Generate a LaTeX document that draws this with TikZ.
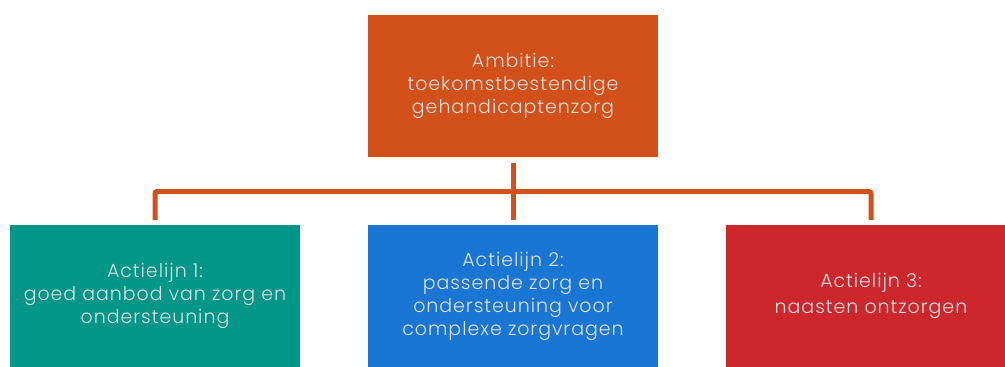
\documentclass[tikz,border=0pt]{standalone}
\usepackage{fontspec}
\setmainfont{Poppins}[UprightFont=* Light, LetterSpace=5]
\definecolor{cTop}{HTML}{D2501A}
\definecolor{cTeal}{HTML}{009688}
\definecolor{cBlue}{HTML}{1976D2}
\definecolor{cRed}{HTML}{CB272D}
\begin{document}
\begin{tikzpicture}[x=1pt,y=-1pt,
  box/.style={minimum width=290pt, minimum height=142pt, inner sep=0pt, align=center,
    text=white!88!black, font=\fontsize{19}{23}\selectfont},
  conn/.style={draw=cTop, line width=5pt, rounded corners=2pt}]
\useasboundingbox (0,0) rectangle (1005,367);
\node[box, fill=cTop] (top) at (513,86) {Ambitie:\\toekomstbestendige\\gehandicaptenzorg};
\node[box, fill=cTeal] (b1) at (155,296) {Actielijn 1:\\goed aanbod van zorg en\\ondersteuning};
\node[box, fill=cBlue] (b2) at (513,296) {Actielijn 2:\\passende zorg en\\ondersteuning voor\\complexe zorgvragen};
\node[box, fill=cRed, font=\fontsize{19}{26}\selectfont] (b3) at (871,296) {Actielijn 3:\\naasten ontzorgen};
\coordinate (j) at (513,191.5);
\draw[conn] ([yshift=5pt]b1.north) |- (j) -| ([yshift=5pt]b3.north);
\draw[conn] ([yshift=-6pt]top.south) -- ([yshift=5pt]b2.north);
\end{tikzpicture}
\end{document}
